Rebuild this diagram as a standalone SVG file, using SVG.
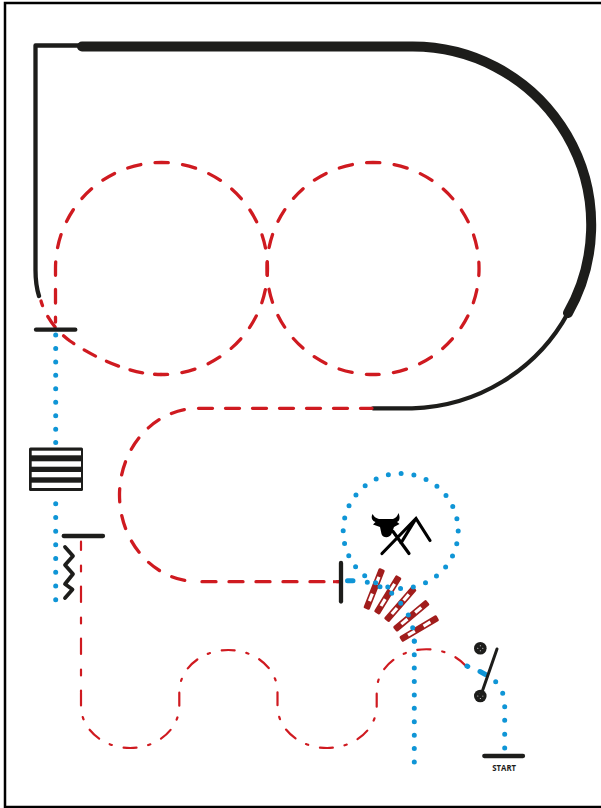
<svg xmlns="http://www.w3.org/2000/svg" width="601" height="808" viewBox="0 0 601 808">
<style>
.bk{fill:none;stroke:#1d1d1b;stroke-linecap:round;stroke-linejoin:round}
.red{fill:none;stroke:#cf1a20;stroke-width:3.300;stroke-linecap:round}
.thin{fill:none;stroke:#cf1a20;stroke-width:2.200;stroke-linecap:round}
.dot{fill:none;stroke:#0f95d6;stroke-width:5;stroke-linecap:round}
.hk{fill:none;stroke:#000;stroke-width:3.200;stroke-linecap:round}
</style>
<defs>
<g id="pole"><rect x="-21.500" y="-3.300" width="43" height="6.600" rx="1.500" fill="#a11d1c"/><rect x="-13" y="-1.600" width="8" height="3.200" fill="#fff"/><rect x="5" y="-1.600" width="8" height="3.200" fill="#fff"/></g>
</defs>
<rect width="601" height="808" fill="#fff"/>
<rect id="frame" x="5" y="3" width="700" height="804" fill="none" stroke="#000" stroke-width="2.500"/>
<g id="poles">
<use id="pole-1" href="#pole" transform="translate(374.200 589) rotate(-68.500)"/>
<use id="pole-2" href="#pole" transform="translate(387.800 594.900) rotate(-58.500)"/>
<use id="pole-3" href="#pole" transform="translate(400.300 604.200) rotate(-49)"/>
<use id="pole-4" href="#pole" transform="translate(411.300 615.800) rotate(-39.800)"/>
<use id="pole-5" href="#pole" transform="translate(419.200 628.600) rotate(-30.600)"/>
</g>
<g id="connectors">
<path id="track-thin-top" class="bk" stroke-width="4.300" d="M82 45.500H35.500V270Q35.500 285 39 296"/>
<path id="track-thick" class="bk" stroke-width="10" d="M82 46.500H412A178.500 178.500 0 0 1 568 313"/>
<path id="track-thin-bottom" class="bk" stroke-width="4.300" d="M568 313A183 183 0 0 1 412 408.300H373"/>
<path class="red" stroke-dasharray="13.500 14.250" stroke-dashoffset="6.750" d="M161 374.500A106 106 0 1 0 55.500 268.500V322"/>
<path class="red" stroke-dasharray="13 12" stroke-dashoffset="6.500" d="M161 374.500C130 374.500 95 358 70 341C55 330 45 315 41 301"/>
<path class="red" stroke-dasharray="13.500 14.250" stroke-dashoffset="6.750" d="M373 374.500A106 106 0 1 1 373 162.500A106 106 0 1 1 373 374.500"/>
<path class="red" stroke-dasharray="14 13" stroke-dashoffset="2.500" d="M372 408.300H198"/>
<path class="red" stroke-dasharray="13.500 13.820" stroke-dashoffset="-13.800" d="M198 408.300A78.500 86.700 0 0 0 198 581.700"/>
<path class="red" stroke-dasharray="14 13" stroke-dashoffset="-2" d="M200 581.700H341"/>
<path class="thin" stroke-linecap="butt" stroke-dasharray="15.500 15.500 6 15" stroke-dashoffset="7.200" d="M81 541.700V692"/>
<path class="thin" stroke-dasharray="13 11.900 2.300 12.050" d="M81 692.500V706A49.150 42 0 0 0 179.300 706V692A49.100 42 0 0 1 277.500 692V706A49.600 42 0 0 0 376.700 706V692A49.600 42 0 0 1 468 668.500"/>
<path class="dot" stroke-dasharray="0 13.450" d="M55.700 335V443"/>
<path class="dot" stroke-dasharray="0 13.720" d="M55.700 503.700V600"/>
<circle class="dot" stroke-dasharray="0 12.903" cx="400.700" cy="531" r="57.500"/>
<path class="dot" stroke-dasharray="0 13.420" d="M414.300 762V641"/>
<path class="dot" d="M414.300 641h0M412.700 627.700h0M408.300 615h0M400.700 603.300h0M391.700 593.300h0M380 586.700h0M367.300 582.300h0"/>
<path class="dot" d="M504.700 748h0M504.700 734.300h0M504.700 720.300h0M504.700 706.700h0M502.700 693.300h0M495.700 681.700h0"/>
<path class="dot" d="M347.500 580.700H353M467 666L467.800 666.400M480 671.500L485.500 674.500"/>
</g>
<g id="line-1"><path class="bk" stroke-width="4.300" d="M36 329.700H75.300"/></g>
<g id="line-2"><path class="bk" stroke-width="4.300" d="M63.700 536H103"/></g>
<g id="gate-line"><path d="M333 581.700H341" stroke="#cf1a20" stroke-width="3"/><path class="bk" stroke-width="4.300" d="M341 563V601.500"/></g>
<g id="hurdle">
<rect x="29" y="447.500" width="54" height="43.500" rx="1.500" fill="#1d1d1b"/>
<g fill="#fff"><rect x="31.700" y="450.700" width="49.300" height="4.600"/><rect x="31.700" y="461.300" width="49.300" height="5.400"/><rect x="31.700" y="472" width="49.300" height="5.300"/><rect x="31.700" y="482.700" width="49.300" height="5.300"/></g>
</g>
<g id="zigzag"><path class="bk" stroke-width="3.800" d="M65 547L73 556L65 565L73 574L65 584L72.500 589.500L65 598"/></g>
<g id="cow" fill="#000">
<path d="M372.500 514C374 516 375 518 379 519L393 519C396 518 397.500 516 398.500 513C400.500 518 399.500 521 397 522L399.500 524L394 527L391.500 534C390 538 383 538.500 381.500 534L380 527L373 524.500L375.500 522C372.500 521 370.500 518 372.500 514Z"/>
</g>
<g id="jump"><path class="hk" d="M382 553.500L416 518.500L430 540.500M393 531.500L409 553.500M416 518.500L401 543"/></g>
<g id="gate-right">
<circle cx="480.300" cy="648.300" r="6.300" fill="#1d1d1b"/>
<circle cx="480.300" cy="696" r="6.300" fill="#1d1d1b"/>
<g fill="#fff"><circle cx="480.300" cy="645.800" r=".5"/><circle cx="480.300" cy="650.800" r=".5"/><circle cx="477.800" cy="648.300" r=".5"/><circle cx="482.800" cy="648.300" r=".5"/><circle cx="480.300" cy="693.500" r=".5"/><circle cx="480.300" cy="698.500" r=".5"/><circle cx="477.800" cy="696" r=".5"/><circle cx="482.800" cy="696" r=".5"/></g>
<path class="bk" stroke-width="3" d="M497 649L481 695"/>
</g>
<g id="start"><path class="bk" stroke-width="4.300" d="M484.300 756H523"/><text x="492.300" y="771.300" textLength="23.700" lengthAdjust="spacingAndGlyphs" font-family="'Open Sans',sans-serif" font-weight="700" font-size="8.600" fill="#1d1d1b">START</text></g>
</svg>
